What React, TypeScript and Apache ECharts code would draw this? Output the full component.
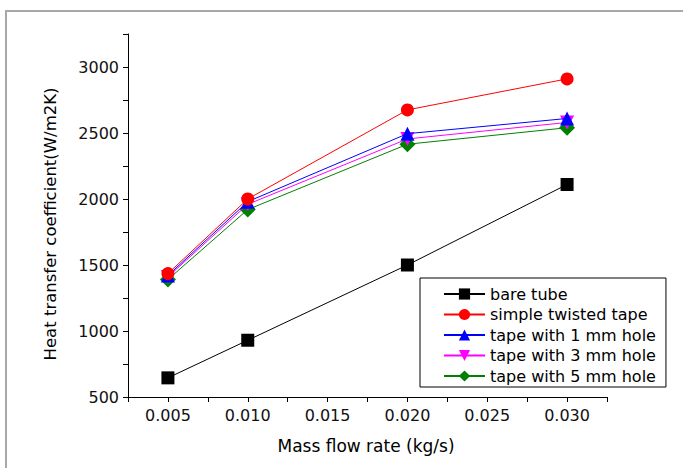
import React, { useEffect, useRef } from "react";
import * as echarts from "echarts";

const massFlow = [0.005, 0.01, 0.02, 0.03];
const seriesNames = [
  "bare tube",
  "simple twisted tape",
  "tape with 1 mm hole",
  "tape with 3 mm hole",
  "tape with 5 mm hole",
];
const bareTube = [645, 930, 1500, 2110];
const simpleTwisted = [1435, 2000, 2675, 2910];
const hole1mm = [1420, 1980, 2495, 2610];
const hole3mm = [1410, 1960, 2455, 2580];
const hole5mm = [1390, 1920, 2415, 2540];
const yTickLabels = [500, 1000, 1500, 2000, 2500, 3000];
const xTickLabels = ["0.005", "0.010", "0.015", "0.020", "0.025", "0.030"];
const xTitle = "Mass flow rate (kg/s)";
const yTitle = "Heat transfer coefficient(W/m2K)";

const allValues = [bareTube, simpleTwisted, hole1mm, hole3mm, hole5mm];
const colors = ["#000000", "#ff0000", "#0000ff", "#ff00ff", "#008000"];
const symbols = ["rect", "circle", "triangle", "triangle", "diamond"];
const symbolSizes = [13, 13, 14, 14, 16];

export default function App() {
  const ref = useRef<HTMLDivElement>(null);
  useEffect(() => {
    if (!ref.current) return;
    const chart = echarts.init(ref.current, null, { renderer: "svg" });
    const font = "'DejaVu Sans', sans-serif";
    const series = allValues.map((vals, i) => ({
      name: seriesNames[i],
      type: "line",
      data: massFlow.map((x, j) => [x, vals[j]]),
      symbol: symbols[i],
      symbolRotate: i === 3 ? 180 : 0,
      symbolSize: symbolSizes[i],
      lineStyle: { color: colors[i], width: 1 },
      itemStyle: { color: colors[i] },
      z: 10 - i,
    }));
    chart.setOption({
      animation: false,
      backgroundColor: "#ffffff",
      graphic: [
        {
          type: "rect",
          shape: { x: 6, y: 11, width: 700, height: 500 },
          style: { fill: "none", stroke: "#a8a8a8", lineWidth: 2 },
          z: 100,
        },
        {
          type: "text",
          x: 366,
          y: 446,
          style: {
            text: xTitle,
            font: "17px 'DejaVu Sans', sans-serif",
            fill: "#000",
            align: "center",
            verticalAlign: "middle",
          },
        },
        {
          type: "text",
          x: 50,
          y: 224,
          rotation: Math.PI / 2,
          style: {
            text: yTitle,
            font: "16.5px 'DejaVu Sans', sans-serif",
            fill: "#000",
            align: "center",
            verticalAlign: "middle",
          },
        },
      ],
      grid: { left: 128, top: 34, right: 76, bottom: 71 },
      legend: {
        orient: "vertical",
        left: 420,
        top: 278,
        itemWidth: 41,
        itemHeight: 14,
        itemGap: 4.5,
        padding: [8, 10, 3, 23],
        borderColor: "#000",
        borderWidth: 1,
        textStyle: { fontFamily: font, fontSize: 16, color: "#000" },
        data: seriesNames,
      },
      xAxis: {
        type: "value",
        min: 0.0025,
        max: 0.0325,
        interval: 0.0025,
        axisLine: { lineStyle: { color: "#000", width: 1 } },
        axisTick: { length: 5, lineStyle: { color: "#000" } },
        splitLine: { show: false },
        axisLabel: {
          fontFamily: font,
          fontSize: 16,
          color: "#111",
          margin: 10,
          formatter: (v: number) => {
            const k = Math.round((v * 1000) / 5);
            const isMajor = Math.abs(v * 1000 - k * 5) < 1e-6;
            if (!isMajor) return "";
            const s = (k * 0.005).toFixed(3);
            return xTickLabels.includes(s) ? s : "";
          },
        },
      },
      yAxis: {
        type: "value",
        min: 500,
        max: 3250,
        interval: 250,
        axisLine: { show: true, lineStyle: { color: "#000", width: 1 } },
        axisTick: { show: true, length: 5, lineStyle: { color: "#000" } },
        splitLine: { show: false },
        axisLabel: {
          fontFamily: font,
          fontSize: 16,
          color: "#111",
          margin: 9,
          formatter: (v: number) => (yTickLabels.includes(v) ? String(v) : ""),
        },
      },
      series,
    });
    return () => chart.dispose();
  }, []);
  return (
    <div
      ref={ref}
      style={{ position: "fixed", left: 0, top: 0, width: 683, height: 468 }}
    />
  );
}
